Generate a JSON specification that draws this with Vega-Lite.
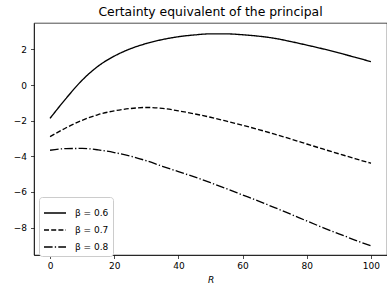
{
  "$schema": "https://vega.github.io/schema/vega-lite/v6.json",
  "width": 353,
  "height": 232,
  "autosize": {"type": "none"},
  "padding": {"left": 34, "top": 23, "right": 0, "bottom": 34},
  "background": "white",
  "title": {"text": "Certainty equivalent of the principal", "fontSize": 12.4, "fontWeight": "normal", "font": "DejaVu Sans", "color": "black", "offset": 5},
  "data": {"values": [
    {"R": 0, "v": -1.87, "s": "β = 0.6"},
    {"R": 5, "v": -0.75, "s": "β = 0.6"},
    {"R": 10, "v": 0.27, "s": "β = 0.6"},
    {"R": 15, "v": 1.06, "s": "β = 0.6"},
    {"R": 20, "v": 1.62, "s": "β = 0.6"},
    {"R": 25, "v": 2.03, "s": "β = 0.6"},
    {"R": 30, "v": 2.33, "s": "β = 0.6"},
    {"R": 35, "v": 2.55, "s": "β = 0.6"},
    {"R": 40, "v": 2.71, "s": "β = 0.6"},
    {"R": 45, "v": 2.81, "s": "β = 0.6"},
    {"R": 50, "v": 2.87, "s": "β = 0.6"},
    {"R": 55, "v": 2.87, "s": "β = 0.6"},
    {"R": 60, "v": 2.82, "s": "β = 0.6"},
    {"R": 65, "v": 2.74, "s": "β = 0.6"},
    {"R": 70, "v": 2.62, "s": "β = 0.6"},
    {"R": 75, "v": 2.44, "s": "β = 0.6"},
    {"R": 80, "v": 2.24, "s": "β = 0.6"},
    {"R": 85, "v": 2.03, "s": "β = 0.6"},
    {"R": 90, "v": 1.80, "s": "β = 0.6"},
    {"R": 95, "v": 1.56, "s": "β = 0.6"},
    {"R": 100, "v": 1.31, "s": "β = 0.6"},
    {"R": 0, "v": -2.90, "s": "β = 0.7"},
    {"R": 5, "v": -2.40, "s": "β = 0.7"},
    {"R": 10, "v": -1.98, "s": "β = 0.7"},
    {"R": 15, "v": -1.66, "s": "β = 0.7"},
    {"R": 20, "v": -1.45, "s": "β = 0.7"},
    {"R": 25, "v": -1.32, "s": "β = 0.7"},
    {"R": 30, "v": -1.26, "s": "β = 0.7"},
    {"R": 35, "v": -1.31, "s": "β = 0.7"},
    {"R": 40, "v": -1.45, "s": "β = 0.7"},
    {"R": 45, "v": -1.62, "s": "β = 0.7"},
    {"R": 50, "v": -1.81, "s": "β = 0.7"},
    {"R": 55, "v": -2.03, "s": "β = 0.7"},
    {"R": 60, "v": -2.26, "s": "β = 0.7"},
    {"R": 65, "v": -2.50, "s": "β = 0.7"},
    {"R": 70, "v": -2.76, "s": "β = 0.7"},
    {"R": 75, "v": -3.03, "s": "β = 0.7"},
    {"R": 80, "v": -3.31, "s": "β = 0.7"},
    {"R": 85, "v": -3.59, "s": "β = 0.7"},
    {"R": 90, "v": -3.86, "s": "β = 0.7"},
    {"R": 95, "v": -4.13, "s": "β = 0.7"},
    {"R": 100, "v": -4.39, "s": "β = 0.7"},
    {"R": 0, "v": -3.66, "s": "β = 0.8"},
    {"R": 5, "v": -3.57, "s": "β = 0.8"},
    {"R": 10, "v": -3.56, "s": "β = 0.8"},
    {"R": 15, "v": -3.64, "s": "β = 0.8"},
    {"R": 20, "v": -3.79, "s": "β = 0.8"},
    {"R": 25, "v": -3.99, "s": "β = 0.8"},
    {"R": 30, "v": -4.25, "s": "β = 0.8"},
    {"R": 35, "v": -4.56, "s": "β = 0.8"},
    {"R": 40, "v": -4.86, "s": "β = 0.8"},
    {"R": 45, "v": -5.16, "s": "β = 0.8"},
    {"R": 50, "v": -5.48, "s": "β = 0.8"},
    {"R": 55, "v": -5.82, "s": "β = 0.8"},
    {"R": 60, "v": -6.17, "s": "β = 0.8"},
    {"R": 65, "v": -6.52, "s": "β = 0.8"},
    {"R": 70, "v": -6.88, "s": "β = 0.8"},
    {"R": 75, "v": -7.25, "s": "β = 0.8"},
    {"R": 80, "v": -7.63, "s": "β = 0.8"},
    {"R": 85, "v": -8.00, "s": "β = 0.8"},
    {"R": 90, "v": -8.35, "s": "β = 0.8"},
    {"R": 95, "v": -8.70, "s": "β = 0.8"},
    {"R": 100, "v": -9.03, "s": "β = 0.8"}
  ]},
  "mark": {"type": "line", "color": "black", "strokeWidth": 1.34, "interpolate": "monotone"},
  "encoding": {
    "x": {"field": "R", "type": "quantitative",
      "scale": {"domain": [-5, 105], "nice": false, "zero": false},
      "axis": {"values": [0, 20, 40, 60, 80, 100], "title": "R", "titleFontStyle": "italic", "titlePadding": 5}},
    "y": {"field": "v", "type": "quantitative",
      "scale": {"domain": [-9.54, 3.48], "nice": false, "zero": false},
      "axis": {"values": [-8, -6, -4, -2, 0, 2], "title": null, "labelExpr": "replace(datum.label, '-', '−')", "labelPadding": 4}},
    "strokeDash": {"field": "s", "type": "nominal",
      "scale": {"domain": ["β = 0.6", "β = 0.7", "β = 0.8"], "range": [[1, 0], [5, 2.2], [8.6, 2.2, 1.3, 2.2]]},
      "legend": {"orient": "none", "legendX": 5, "legendY": 174, "title": null,
        "fillColor": "white", "strokeColor": "#cccccc", "cornerRadius": 3, "padding": 4,
        "symbolType": "stroke", "symbolSize": 484, "symbolStrokeWidth": 1.34, "symbolStrokeColor": "black",
        "labelFontSize": 9, "labelFont": "DejaVu Sans", "labelColor": "black", "labelOffset": 8, "rowPadding": 0}}
  },
  "config": {
    "axis": {"domainColor": "black", "tickColor": "black", "labelColor": "black", "labelFont": "DejaVu Sans", "labelFontSize": 9, "titleFont": "DejaVu Sans", "titleFontSize": 9, "titleFontWeight": "normal", "titleColor": "black", "grid": false, "tickSize": 3.5, "domainWidth": 0.7, "tickWidth": 0.7, "labelPadding": 3},
    "view": {"stroke": "black", "strokeWidth": 0.7}
  }
}
